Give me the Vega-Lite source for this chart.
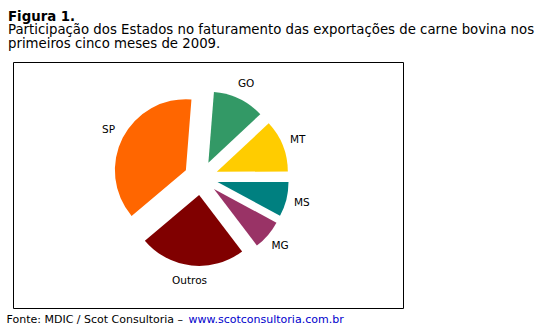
{
  "$schema": "https://vega.github.io/schema/vega-lite/v6.json",
  "padding": {"left": 6, "top": 9, "right": 5, "bottom": 5},
  "background": "white",
  "title": {
    "text": "Fonte: MDIC / Scot Consultoria –",
    "orient": "bottom",
    "anchor": "start",
    "dx": -1,
    "offset": -11,
    "font": "DejaVu Sans",
    "fontSize": 11,
    "fontWeight": "normal",
    "color": "black"
  },
  "vconcat": [
    {
      "title": {
        "text": "www.scotconsultoria.com.br",
        "orient": "bottom",
        "anchor": "start",
        "dx": 181,
        "offset": 5,
        "font": "DejaVu Sans",
        "fontSize": 11,
        "fontWeight": "normal",
        "color": "#0000CC"
      },
      "vconcat": [
        {
          "width": 390,
          "height": 246,
          "view": {"stroke": "black", "strokeWidth": 1},
          "title": {
            "text": "Figura 1.",
            "subtitle": [
              "Participação dos Estados no faturamento das exportações de carne bovina nos",
              "primeiros cinco meses de 2009."
            ],
            "anchor": "start",
            "dx": -5,
            "offset": 12,
            "font": "DejaVu Sans",
            "fontSize": 13.3,
            "fontWeight": "bold",
            "color": "black",
            "subtitleFont": "DejaVu Sans",
            "subtitleFontSize": 13.3,
            "subtitleColor": "black",
            "subtitlePadding": 0,
            "subtitleLineHeight": 13.3
          },
          "data": {
            "values": [
              {"estado": "GO", "share": 11.8, "k": 1},
              {"estado": "MT", "share": 11.9, "k": 2},
              {"estado": "MS", "share": 7.9, "k": 3},
              {"estado": "MG", "share": 6.8, "k": 4},
              {"estado": "Outros", "share": 24.2, "k": 5},
              {"estado": "SP", "share": 37.4, "k": 6}
            ]
          },
          "encoding": {
            "theta": {"field": "share", "type": "quantitative", "stack": true, "scale": {"range": [0.07854, 6.36173]}},
            "order": {"field": "k", "type": "quantitative"},
            "x": {"value": 188},
            "y": {"value": 116}
          },
          "layer": [
            {
              "mark": {
                "type": "arc",
                "outerRadius": 71,
                "xOffset": {"expr": "17*sin(0.07854 + PI*(datum.share_start + datum.share_end)/100)"},
                "yOffset": {"expr": "-17*cos(0.07854 + PI*(datum.share_start + datum.share_end)/100)"}
              },
              "encoding": {
                "color": {
                  "field": "estado",
                  "type": "nominal",
                  "legend": null,
                  "scale": {
                    "domain": ["GO", "MT", "MS", "MG", "Outros", "SP"],
                    "range": ["#339966", "#FFCC00", "#008080", "#993366", "#800000", "#FF6600"]
                  }
                }
              }
            },
            {
              "mark": {
                "type": "text",
                "radius": 104,
                "font": "DejaVu Sans",
                "fontSize": 10.5,
                "color": "black"
              },
              "encoding": {
                "text": {"field": "estado", "type": "nominal"}
              }
            }
          ]
        }
      ]
    }
  ]
}
